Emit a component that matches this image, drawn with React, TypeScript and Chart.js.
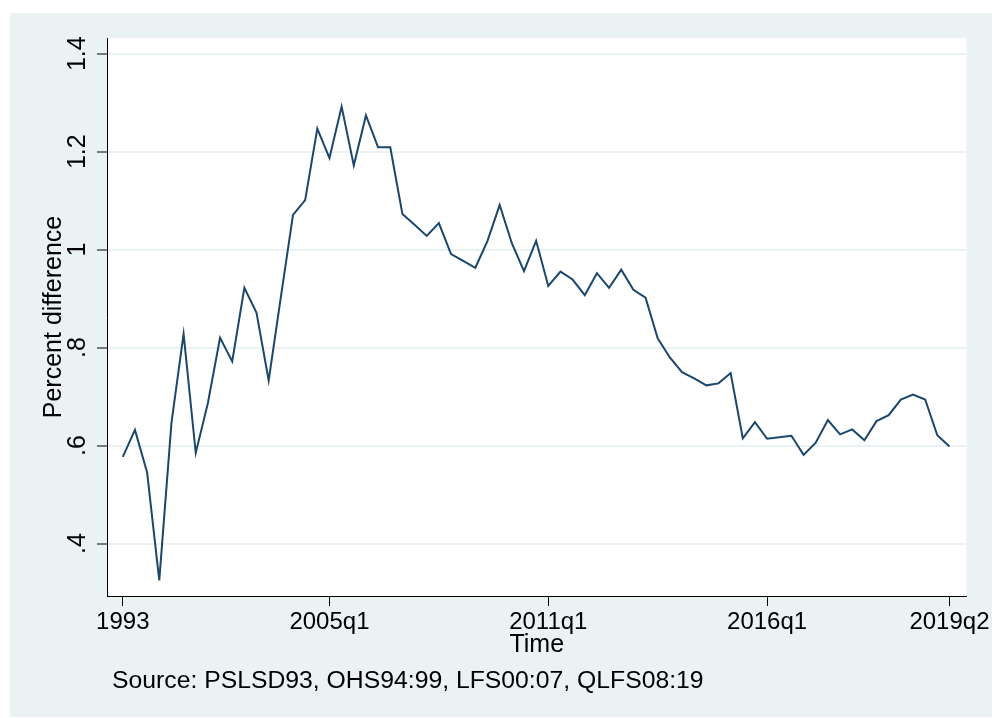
import React, { useEffect, useRef } from 'react';
import { Chart, registerables } from 'chart.js';

Chart.register(...registerables);

// Observation index along the x axis (categorical time periods, evenly spaced)
const seriesValues: number[] = [
  0.577, 0.632, 0.545, 0.325, 0.646, 0.828, 0.585, 0.687, 0.820, 0.772,
  0.922, 0.871, 0.733, 0.903, 1.071, 1.101, 1.247, 1.187, 1.292, 1.172,
  1.274, 1.209, 1.209, 1.073, 1.051, 1.028, 1.054, 0.991, 0.977, 0.963,
  1.018, 1.091, 1.013, 0.956, 1.018, 0.926, 0.955, 0.939, 0.907, 0.952,
  0.922, 0.959, 0.918, 0.902, 0.819, 0.780, 0.750, 0.737, 0.723, 0.727,
  0.748, 0.615, 0.648, 0.614, 0.617, 0.620, 0.581, 0.606, 0.652, 0.623,
  0.633, 0.611, 0.650, 0.662, 0.694, 0.704, 0.694, 0.621, 0.598,
];

const xTickIndex: number[] = [0, 17, 35, 53, 68];
const xTickLabels: string[] = ['1993', '2005q1', '2011q1', '2016q1', '2019q2'];

const yTickValues: number[] = [0.4, 0.6, 0.8, 1.0, 1.2, 1.4];
const yTickLabels: string[] = ['.4', '.6', '.8', '1', '1.2', '1.4'];

const xTitle = 'Time';
const yTitle = 'Percent difference';
const sourceNote = 'Source: PSLSD93, OHS94:99, LFS00:07, QLFS08:19';

const FONT = '"Liberation Sans", Arial, Helvetica, sans-serif';
const BG = '#eaf2f3';
const LINE = '#1a476f';

export default function App() {
  const ref = useRef<HTMLCanvasElement | null>(null);

  useEffect(() => {
    if (!ref.current) return;
    const points = seriesValues.map((v, i) => ({ x: i, y: v }));

    const bgPlugin = {
      id: 'stataBg',
      beforeDraw(chart: any) {
        const { ctx, width, height, chartArea } = chart;
        ctx.save();
        ctx.fillStyle = '#ffffff';
        ctx.fillRect(0, 0, width, height);
        ctx.fillStyle = BG;
        ctx.fillRect(10, 13, width - 10, height - 14);
        ctx.fillStyle = '#ffffff';
        ctx.fillRect(chartArea.left, chartArea.top, chartArea.right - chartArea.left, chartArea.bottom - chartArea.top);
        ctx.restore();
      },
    };

    const yLabelPlugin = {
      id: 'yRotLabels',
      afterDraw(chart: any) {
        const { ctx, chartArea } = chart;
        const ys = chart.scales.y;
        ctx.save();
        ctx.fillStyle = '#000';
        ctx.font = `25px ${FONT}`;
        ctx.textAlign = 'center';
        ctx.textBaseline = 'alphabetic';
        yTickValues.forEach((v, i) => {
          const py = ys.getPixelForValue(v);
          ctx.save();
          ctx.translate(chartArea.left - 22, py);
          ctx.rotate(-Math.PI / 2);
          ctx.fillText(yTickLabels[i], 0, 0);
          ctx.restore();
        });
        ctx.font = `24.75px ${FONT}`;
        ctx.textAlign = 'left';
        ctx.fillText(sourceNote, chartArea.left + 5, chartArea.bottom + 92);
        ctx.restore();
      },
    };

    const chart = new Chart(ref.current, {
      type: 'line',
      data: {
        datasets: [
          {
            data: points,
            borderColor: LINE,
            borderWidth: 2,
            pointRadius: 0,
            tension: 0,
            fill: false,
          },
        ],
      },
      options: {
        animation: false,
        responsive: false,
        maintainAspectRatio: false,
        devicePixelRatio: 1,
        layout: { padding: { left: 27, top: 38, right: 25, bottom: 52 } },
        plugins: {
          legend: { display: false },
          tooltip: { enabled: false },
          title: { display: false },
        },
        scales: {
          x: {
            type: 'linear',
            min: -1.3,
            max: 69.4,
            afterBuildTicks: (s: any) => {
              s.ticks = xTickIndex.map((v) => ({ value: v }));
            },
            afterFit: (s: any) => {
              s.height = 70;
            },
            ticks: {
              autoSkip: false,
              maxRotation: 0,
              minRotation: 0,
              padding: 2,
              color: '#000',
              font: { family: FONT, size: 24 },
              callback: (value: any) => {
                const k = xTickIndex.indexOf(Number(value));
                return k >= 0 ? xTickLabels[k] : '';
              },
            },
            grid: {
              drawOnChartArea: false,
              drawTicks: true,
              tickLength: 10,
              tickColor: '#000',
              tickWidth: 1,
            },
            border: { display: true, color: '#000', width: 1 },
            title: {
              display: true,
              text: xTitle,
              color: '#000',
              font: { family: FONT, size: 25 },
              padding: { top: 0, bottom: 6 },
            },
          },
          y: {
            type: 'linear',
            min: 0.293,
            max: 1.432,
            afterBuildTicks: (s: any) => {
              s.ticks = yTickValues.map((v) => ({ value: v }));
            },
            afterFit: (s: any) => {
              s.width = 80;
            },
            ticks: { display: false },
            grid: {
              color: BG,
              lineWidth: 2,
              drawTicks: true,
              tickLength: 10,
              tickColor: '#000',
              tickWidth: 1,
            },
            border: { display: true, color: '#000', width: 1 },
            title: {
              display: true,
              text: yTitle,
              color: '#000',
              font: { family: FONT, size: 25 },
              padding: { top: 12, bottom: 0 },
            },
          },
        },
      },
      plugins: [bgPlugin, yLabelPlugin],
    } as any);

    return () => chart.destroy();
  }, []);

  return (
    <div style={{ position: 'absolute', left: 0, top: 0, width: 992, height: 718, background: '#fff' }}>
      <canvas ref={ref} width={992} height={718} style={{ display: 'block', width: 992, height: 718 }} />
    </div>
  );
}
